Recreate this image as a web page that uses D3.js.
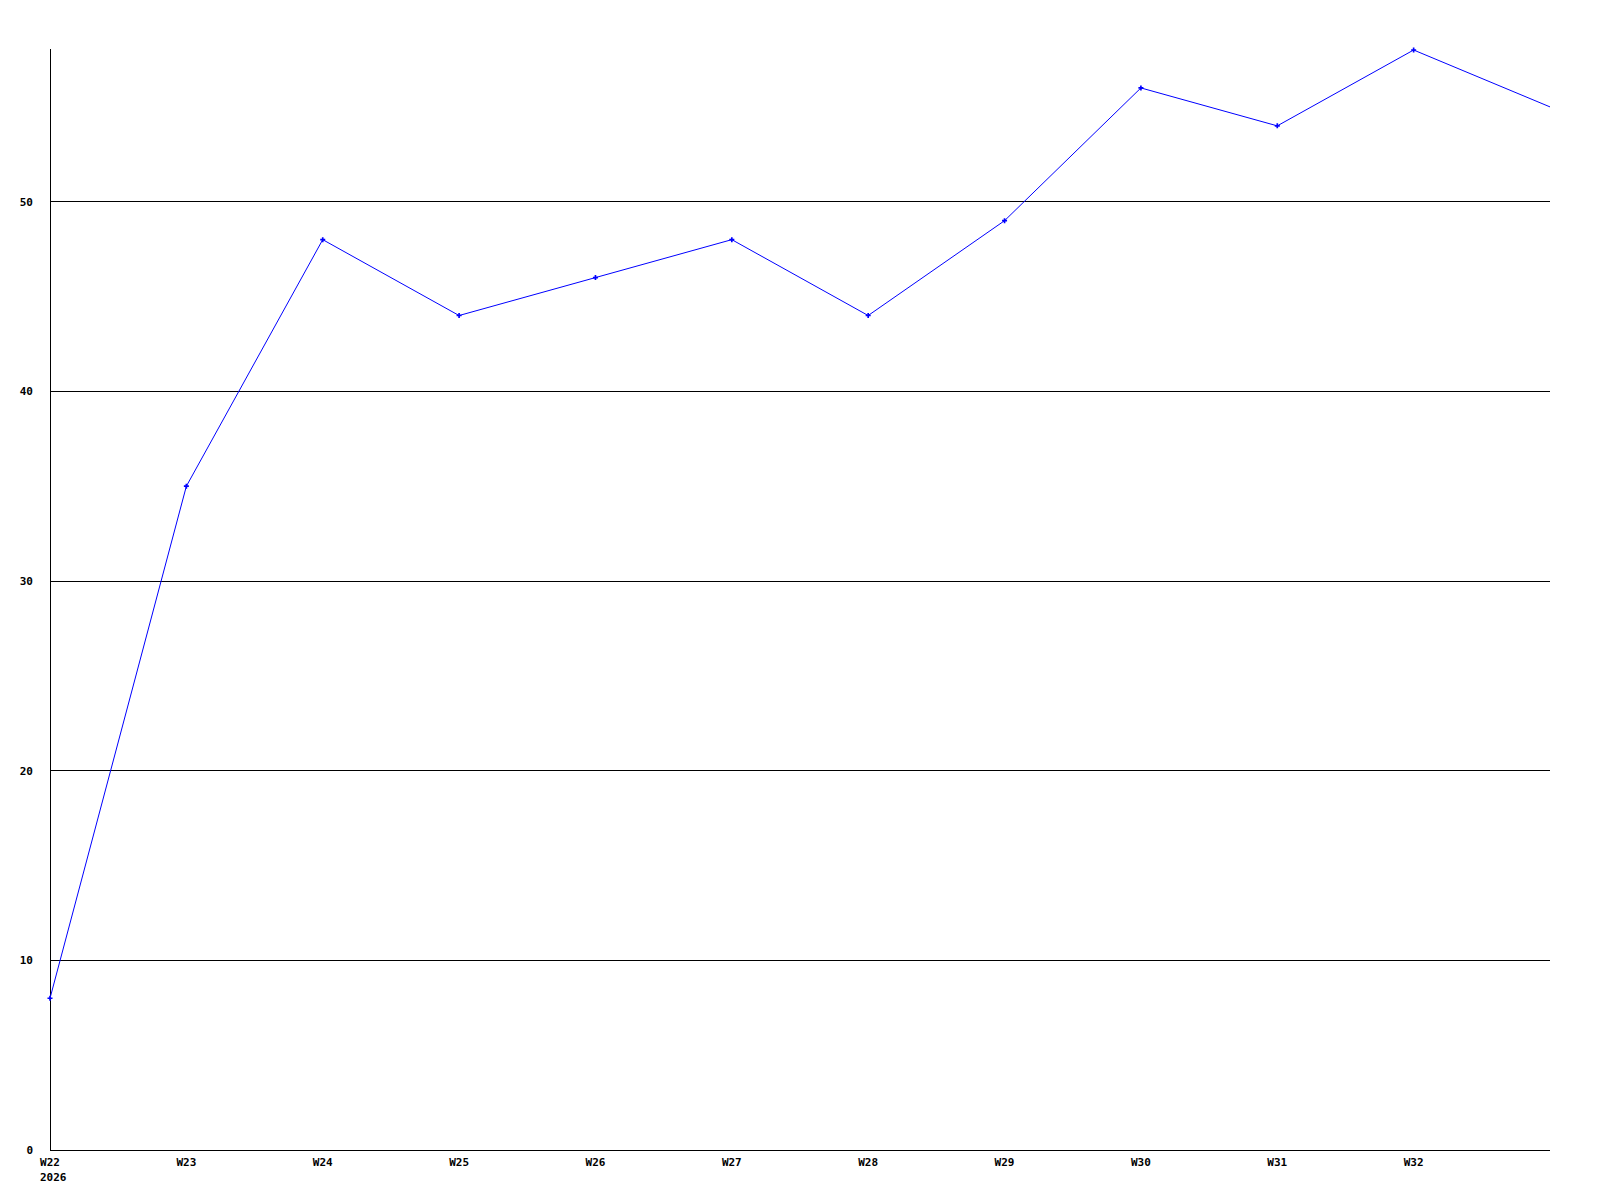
<!DOCTYPE html>
<html><head><meta charset="utf-8">
<script src="https://cdn.jsdelivr.net/npm/d3@7"></script>
<style>body{margin:0;background:#fff}svg{display:block}text{font-family:"DejaVu Sans Mono","Liberation Mono",monospace;font-weight:bold;font-size:11px;fill:#000}</style>
</head><body>
<svg id="c" width="1600" height="1200"></svg>
<script>
const categories = ["W22","W23","W24","W25","W26","W27","W28","W29","W30","W31","W32","W33"];
const tickLabels = ["W22","W23","W24","W25","W26","W27","W28","W29","W30","W31","W32"];
const values = [8,35,48,44,46,48,44,49,56,54,58,55];
const yTicks = [0,10,20,30,40,50];
const yearLabel = "2026";

(function(){
const svg = d3.select("#c");
const mLeft = 50, mRight = 1550, mTop = 50, mBottom = 1150;
const x = d3.scalePoint().domain(categories).range([mLeft, mRight]);
const y = d3.scaleLinear().domain([0,58]).range([mBottom, mTop]);

// gridlines
svg.append("g").selectAll("line").data(yTicks.filter(d=>d>0)).join("line")
  .attr("x1", mLeft).attr("x2", mRight)
  .attr("y1", d=>Math.floor(y(d))+0.5).attr("y2", d=>Math.floor(y(d))+0.5)
  .attr("stroke","#000").attr("stroke-width",1).attr("shape-rendering","crispEdges");

// axes lines
svg.append("line").attr("x1",mLeft+0.5).attr("x2",mLeft+0.5).attr("y1",mTop-1).attr("y2",mBottom+1)
  .attr("stroke","#000").attr("shape-rendering","crispEdges");
svg.append("line").attr("x1",mLeft).attr("x2",mRight).attr("y1",mBottom+0.5).attr("y2",mBottom+0.5)
  .attr("stroke","#000").attr("shape-rendering","crispEdges");

// y labels
svg.append("g").selectAll("text").data(yTicks).join("text")
  .attr("x", 33).attr("y", d=>y(d)).attr("dy","0.35em").attr("text-anchor","end").text(d=>d);

// x labels
svg.append("g").selectAll("text").data(tickLabels).join("text")
  .attr("x", d=>x(d)).attr("y", 1162).attr("dy","0.35em").attr("text-anchor","middle").text(d=>d);
svg.append("text").attr("x", x(categories[0])-10).attr("y",1177).attr("dy","0.35em").text(yearLabel);

// line
const line = d3.line().x((d,i)=>x(categories[i])).y(d=>y(d));
svg.append("path").datum(values).attr("d", line).attr("fill","none").attr("stroke","#0000ff").attr("stroke-width",1);

// markers (except last partial point)
const sym = d3.symbol().type(d3.symbolCross).size(14);
svg.append("g").selectAll("path").data(values.slice(0, tickLabels.length)).join("path")
  .attr("d", sym).attr("transform",(d,i)=>`translate(${x(categories[i])},${y(d)})`).attr("fill","#0000ff");
})();
</script>
</body></html>
